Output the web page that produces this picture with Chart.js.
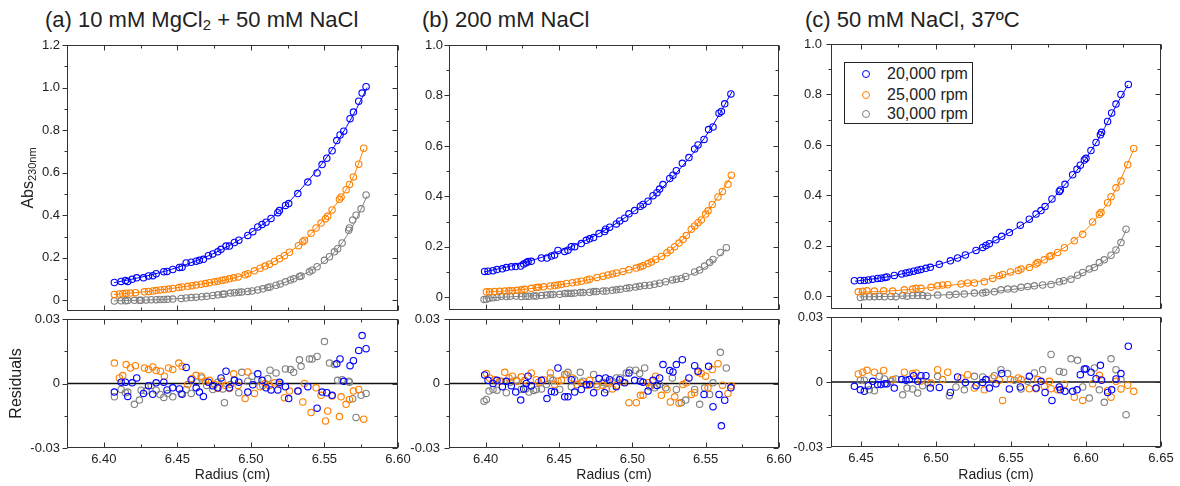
<!DOCTYPE html>
<html lang="en">
<head>
<meta charset="UTF-8">
<title>Absorbance profiles and residuals</title>
<script src="https://cdn.jsdelivr.net/npm/chart.js"></script>
<style>
  body { margin:0; background:#fff; font-family:'Liberation Sans', Arial, sans-serif; color:#222; }
  #page { position:relative; width:1180px; height:486px; overflow:hidden; background:#fff; }
  .box { position:absolute; }
  .box canvas { display:block; }
  .panel-title { position:absolute; top:7px; font-size:22px; line-height:26px; white-space:nowrap; }
  .panel-title sub { font-size:15px; vertical-align:-3px; line-height:0; }
  .ylab { position:absolute; width:100px; height:20px; line-height:20px; text-align:center;
          font-size:16px; white-space:nowrap; transform:rotate(-90deg); }
  .ylab sub { font-size:11px; vertical-align:-3px; line-height:0; }
  #legend { position:absolute; left:844px; top:62px; width:127px; height:60px; border:1px solid #222; background:#fff; }
  #legend .row { position:absolute; left:0; height:20px; line-height:20px; font-size:16px; white-space:nowrap; }
  #legend .mk { position:absolute; left:17px; top:6px; width:8px; height:8px; box-sizing:border-box;
                border:1.3px solid; border-radius:50%; }
  #legend .tx { position:absolute; left:42px; top:0; }
</style>
</head>
<body>
<div id="page">
  <div class="panel-title" style="left:45px">(a) 10 mM MgCl<sub>2</sub> + 50 mM NaCl</div>
  <div class="panel-title" style="left:422px">(b) 200 mM NaCl</div>
  <div class="panel-title" style="left:805px">(c) 50 mM NaCl, 37ºC</div>

  <div class="box" style="left:0;top:30px"><canvas id="aTop" width="412" height="290"></canvas></div>
  <div class="box" style="left:0;top:310px"><canvas id="aRes" width="412" height="176"></canvas></div>
  <div class="box" style="left:400px;top:30px"><canvas id="bTop" width="392" height="290"></canvas></div>
  <div class="box" style="left:400px;top:310px"><canvas id="bRes" width="392" height="176"></canvas></div>
  <div class="box" style="left:780px;top:30px"><canvas id="cTop" width="400" height="290"></canvas></div>
  <div class="box" style="left:780px;top:310px"><canvas id="cRes" width="400" height="176"></canvas></div>

  <div class="ylab" style="left:-22px;top:168px">Abs<sub>230nm</sub></div>

  <div id="legend">
    <div class="row" style="top:1px"><span class="mk" style="border-color:#0000ff"></span><span class="tx">20,000 rpm</span></div>
    <div class="row" style="top:22px"><span class="mk" style="border-color:#ff8000"></span><span class="tx">25,000 rpm</span></div>
    <div class="row" style="top:41px"><span class="mk" style="border-color:#808080"></span><span class="tx">30,000 rpm</span></div>
  </div>
</div>

<script>
  // ---- tick values / labels ----
  const xTicksAB = [6.40, 6.45, 6.50, 6.55, 6.60];
  const xTicksC  = [6.45, 6.50, 6.55, 6.60, 6.65];
  const yTicksA  = [0, 0.2, 0.4, 0.6, 0.8, 1.0, 1.2];
  const yLabelsA = ['0', '0.2', '0.4', '0.6', '0.8', '1.0', '1.2'];
  const yTicksBC = [0, 0.2, 0.4, 0.6, 0.8, 1.0];
  const yLabelsB = ['0', '0.2', '0.4', '0.6', '0.8', '1.0'];
  const yLabelsC = ['0.0', '0.2', '0.4', '0.6', '0.8', '1.0'];
  const resTicks  = [-0.03, 0, 0.03];
  const resLabels = ['-0.03', '0', '0.03'];

  // ---- (a) 10 mM MgCl2 + 50 mM NaCl ----
  const aBlueR = [6.4072,6.4118,6.4147,6.4163,6.4193,6.4224,6.427,6.4304,6.4333,6.4356,6.4408,6.443,6.4469,6.4514,6.4532,6.456,6.4594,6.4628,6.465,6.4677,6.4711,6.4741,6.4775,6.4797,6.4831,6.4854,6.4888,6.4918,6.4979,6.5013,6.5047,6.5076,6.5103,6.5137,6.5183,6.5194,6.5235,6.5257,6.5319,6.5387,6.545,6.5484,6.5516,6.5552,6.5584,6.5606,6.5631,6.5674,6.5697,6.5733,6.5756,6.5783];
  const aBlueAbs = [0.084,0.089,0.093,0.089,0.099,0.106,0.106,0.115,0.116,0.125,0.135,0.136,0.145,0.155,0.156,0.176,0.179,0.184,0.188,0.193,0.210,0.218,0.228,0.240,0.255,0.255,0.272,0.283,0.305,0.323,0.345,0.357,0.367,0.385,0.412,0.422,0.446,0.455,0.502,0.556,0.599,0.638,0.668,0.703,0.751,0.777,0.795,0.854,0.885,0.936,0.974,1.004];
  const aBlueRes = [-0.004,0.0006,0.0006,-0.006,0.0003,0.0026,-0.0046,-0.001,-0.005,0.0003,0.0006,-0.003,-0.002,-0.0025,-0.005,0.0075,0.0018,-0.002,-0.004,-0.006,0.0006,-0.001,-0.002,0.0026,0.0057,-0.002,0.0015,0.0006,-0.004,-0.0006,0.0045,0.0015,-0.002,-0.003,-0.003,0.0006,-0.0015,-0.007,-0.0035,-0.0015,-0.0115,-0.004,-0.0043,-0.0055,0.0092,0.0114,0.001,0.0083,0.0106,0.0154,0.0223,0.0162];
  const aBlueFitR   = [6.407,6.43,6.455,6.48,6.50,6.52,6.54,6.555,6.565,6.572,6.579];
  const aBlueFitAbs = [0.083,0.116,0.166,0.238,0.318,0.423,0.571,0.706,0.816,0.903,1.0];

  const aOrangeR = [6.4072,6.4106,6.4129,6.4152,6.4181,6.4215,6.4276,6.4304,6.4333,6.4356,6.4385,6.4412,6.444,6.4469,6.451,6.4532,6.4571,6.46,6.4628,6.4662,6.4691,6.4718,6.4752,6.4775,6.4804,6.4827,6.4854,6.4883,6.4913,6.4961,6.4979,6.5024,6.5063,6.5097,6.5126,6.516,6.5194,6.5228,6.5262,6.5323,6.5353,6.5364,6.5409,6.5443,6.5477,6.5507,6.5522,6.5552,6.5602,6.5613,6.5647,6.567,6.5697,6.5733,6.5767];
  const aOrangeAbs = [0.028,0.030,0.031,0.033,0.034,0.036,0.040,0.042,0.044,0.046,0.049,0.051,0.053,0.056,0.060,0.063,0.066,0.069,0.072,0.076,0.079,0.083,0.087,0.090,0.094,0.097,0.101,0.106,0.110,0.120,0.125,0.139,0.151,0.161,0.170,0.183,0.196,0.210,0.226,0.257,0.276,0.283,0.315,0.340,0.363,0.384,0.395,0.425,0.475,0.486,0.520,0.545,0.580,0.640,0.715];
  const aOrangeRes = [0.0095,0.0026,0.0037,0.0088,0.0072,0.0083,0.0072,0.0065,0.0077,0.006,0.0057,0.0034,0.0072,0.0065,0.0095,0.008,-0.0005,0.0023,0.0038,0.0034,0.001,0.0015,-0.0005,-0.0023,0.001,-0.0009,-0.0023,0.0045,-0.0009,-0.007,0.0054,-0.0046,-0.0015,0,-0.0009,0.0003,-0.0005,-0.0066,-0.0035,-0.0035,-0.0086,0,-0.0135,-0.002,-0.0055,-0.0174,-0.0128,-0.0058,-0.0154,-0.0062,-0.0097,-0.0074,-0.0035,-0.0028,-0.0166];
  const aOrangeFitR   = [6.407,6.43,6.46,6.49,6.51,6.53,6.545,6.56,6.57,6.5767];
  const aOrangeFitAbs = [0.028,0.042,0.070,0.108,0.162,0.245,0.343,0.472,0.585,0.712];

  const aGrayR = [6.4072,6.4118,6.4147,6.4163,6.4208,6.4242,6.4254,6.4288,6.4322,6.4356,6.4383,6.4408,6.4435,6.4469,6.4526,6.456,6.4594,6.4628,6.4666,6.47,6.4741,6.4775,6.4809,6.482,6.4861,6.4888,6.4918,6.4938,6.4979,6.5008,6.5047,6.5081,6.5115,6.513,6.5171,6.5199,6.5235,6.5269,6.5291,6.533,6.5341,6.5398,6.5416,6.545,6.55,6.5534,6.5568,6.559,6.562,6.5665,6.567,6.5692,6.5715,6.5749,6.5783];
  const aGrayAbs = [-0.003,-0.002,-0.002,-0.001,0.000,0.000,0.001,0.002,0.003,0.003,0.004,0.004,0.005,0.006,0.009,0.011,0.013,0.015,0.017,0.019,0.023,0.026,0.029,0.030,0.034,0.036,0.038,0.039,0.042,0.044,0.049,0.054,0.060,0.063,0.071,0.077,0.087,0.096,0.101,0.112,0.115,0.134,0.142,0.158,0.188,0.205,0.228,0.243,0.270,0.330,0.340,0.378,0.400,0.430,0.495];
  const aGrayRes = [-0.0062,-0.0028,-0.0043,-0.004,-0.0097,-0.0077,-0.0031,-0.0035,-0.0009,-0.0031,-0.0051,-0.0065,-0.0046,-0.0062,-0.0046,-0.0028,-0.0046,0.0006,0.0026,-0.0009,-0.0028,0.0006,-0.0025,-0.0089,-0.0005,0.0018,-0.0043,0.0052,0.0011,0.0034,0.0018,-0.0009,0.0023,0.0062,0.0049,0.0003,0.0068,0.0065,0.0052,0.011,0.008,0.0114,0.0114,0.0126,0.0195,0.0095,0.0088,0.0015,0.0018,0.0011,0.0006,-0.0071,-0.0158,-0.0055,-0.0046];
  const aGrayFitR   = [6.407,6.44,6.465,6.49,6.51,6.525,6.54,6.55,6.56,6.57,6.579];
  const aGrayFitAbs = [-0.002,0.004,0.016,0.036,0.057,0.089,0.137,0.184,0.252,0.36,0.49];

  // ---- (b) 200 mM NaCl ----
  const bBlueR = [6.3993,6.4016,6.405,6.4077,6.4114,6.4141,6.4175,6.4205,6.4239,6.4259,6.4277,6.4289,6.4311,6.438,6.4418,6.4448,6.447,6.4493,6.4539,6.4561,6.4584,6.4607,6.4652,6.4686,6.4709,6.4736,6.4773,6.4811,6.4818,6.4845,6.4891,6.4914,6.4948,6.4977,6.5016,6.5055,6.5073,6.5107,6.5141,6.5168,6.5186,6.5209,6.5255,6.5277,6.53,6.5341,6.5386,6.5425,6.5448,6.5489,6.552,6.555,6.5591,6.5607,6.563,6.5672];
  const bBlueAbs = [0.103,0.104,0.106,0.110,0.113,0.118,0.121,0.122,0.124,0.132,0.137,0.142,0.143,0.156,0.156,0.164,0.168,0.186,0.182,0.187,0.201,0.201,0.213,0.226,0.232,0.237,0.253,0.261,0.270,0.278,0.291,0.303,0.314,0.331,0.344,0.361,0.368,0.381,0.403,0.415,0.429,0.447,0.471,0.484,0.502,0.531,0.554,0.588,0.604,0.626,0.665,0.675,0.730,0.737,0.767,0.806];
  const bBlueRes = [0.004,0.0015,0,0.0015,-0.0015,0.001,-0.001,-0.004,-0.0077,-0.0025,0,0.0034,-0.001,0.0015,-0.007,-0.0037,-0.004,0.0072,-0.0062,-0.0062,0.0018,-0.004,-0.0028,-0.0005,-0.0005,-0.0043,0.0023,-0.0043,0.0026,0.0018,-0.0015,0.0018,0.0003,0.0049,0.0015,0.0011,0.0006,-0.0035,0.0015,-0.0009,0.0026,0.0088,0.006,0.0054,0.0088,0.0111,0.0026,0.0083,0.0057,-0.0051,0.008,-0.0108,-0.0051,-0.0197,-0.0078,-0.002];
  const bBlueFitR   = [6.399,6.42,6.44,6.46,6.48,6.50,6.515,6.53,6.545,6.555,6.568];
  const bBlueFitAbs = [0.101,0.128,0.162,0.205,0.262,0.336,0.405,0.493,0.598,0.683,0.815];

  const bOrangeR = [6.4005,6.4027,6.4061,6.4095,6.413,6.4159,6.4182,6.4214,6.4243,6.4266,6.4311,6.4345,6.4361,6.4395,6.4441,6.447,6.4493,6.4516,6.455,6.4591,6.4623,6.4652,6.4691,6.4709,6.4759,6.48,6.4834,6.4864,6.4891,6.4936,6.4977,6.5027,6.5055,6.5073,6.5107,6.513,6.5159,6.5198,6.5236,6.5259,6.5289,6.5318,6.5345,6.5368,6.5402,6.5425,6.5448,6.547,6.55,6.5516,6.5545,6.5584,6.5614,6.5652,6.5675];
  const bOrangeAbs = [0.022,0.022,0.023,0.024,0.025,0.026,0.026,0.028,0.030,0.032,0.036,0.039,0.040,0.042,0.045,0.047,0.049,0.051,0.055,0.058,0.061,0.064,0.069,0.072,0.079,0.084,0.089,0.093,0.097,0.103,0.109,0.116,0.121,0.125,0.134,0.140,0.150,0.162,0.177,0.187,0.201,0.215,0.229,0.245,0.270,0.283,0.296,0.307,0.330,0.343,0.368,0.398,0.420,0.448,0.484];
  const bOrangeRes = [0.0046,0.0026,0.0018,0.0011,0.0052,0.0026,0.0034,0.0011,0.0031,0.0015,0.0049,0.0018,0.0006,0.0018,0.0049,-0.0005,0.0011,0.0015,0.0042,0.0026,-0.0005,0.0003,-0.0009,0.0015,-0.0015,-0.0009,0.0006,-0.0025,-0.0009,0.0006,-0.0089,-0.0089,-0.0055,-0.0055,0.0003,-0.0009,0.0034,-0.0055,-0.0028,-0.0086,-0.0062,-0.0092,-0.0005,0.0003,-0.0051,-0.0043,0.0052,0.0046,0.0034,-0.002,0.0065,0.0092,-0.0008,-0.0046,-0.001];
  const bOrangeFitR   = [6.40,6.42,6.44,6.46,6.48,6.50,6.515,6.53,6.545,6.555,6.5675];
  const bOrangeFitAbs = [0.021,0.028,0.042,0.058,0.083,0.112,0.146,0.205,0.296,0.370,0.480];

  const bGrayR = [6.3989,6.4005,6.4023,6.405,6.4077,6.4107,6.4141,6.4168,6.4209,6.4243,6.4273,6.4295,6.4327,6.4345,6.438,6.4414,6.4441,6.4459,6.4505,6.4539,6.4561,6.4584,6.4607,6.4645,6.4664,6.4709,6.4736,6.4755,6.48,6.4823,6.4864,6.4891,6.4918,6.4959,6.4982,6.5023,6.505,6.5084,6.5118,6.5152,6.5186,6.5227,6.5273,6.53,6.5334,6.5364,6.5425,6.5459,6.5493,6.5527,6.555,6.56,6.5641];
  const bGrayAbs = [-0.008,-0.007,-0.003,-0.001,0.001,0.004,0.003,0.004,0.005,0.003,0.004,0.004,0.005,0.005,0.007,0.009,0.011,0.011,0.012,0.015,0.016,0.015,0.017,0.019,0.019,0.020,0.023,0.023,0.025,0.025,0.028,0.030,0.032,0.036,0.038,0.041,0.044,0.047,0.048,0.052,0.056,0.062,0.069,0.072,0.075,0.083,0.101,0.108,0.124,0.138,0.150,0.178,0.197];
  const bGrayRes = [-0.0082,-0.0074,-0.0035,-0.0028,-0.0031,0.0011,-0.0043,0.0006,0.0015,-0.0028,-0.0025,-0.004,-0.0032,-0.0028,-0.0025,-0.0005,0.0026,0.0015,-0.0028,0.0042,0.0052,-0.0015,0.0018,0.0052,0.0011,-0.0005,0.0042,-0.0005,0.0006,-0.0028,0.0011,0.0026,0.0026,0.0049,0.0062,0.0062,0.0046,0.0072,-0.0015,-0.002,-0.0005,-0.002,0.0026,-0.0028,-0.0089,-0.0077,-0.0028,-0.0097,-0.002,-0.0051,0.0003,0.0145,0.0072];
  const bGrayFitR   = [6.399,6.42,6.44,6.46,6.48,6.50,6.52,6.535,6.545,6.555,6.5641];
  const bGrayFitAbs = [-0.003,0.003,0.008,0.015,0.025,0.038,0.058,0.080,0.104,0.140,0.192];

  // ---- (c) 50 mM NaCl, 37 ºC ----
  const cBlueR = [6.4456,6.4496,6.4522,6.4549,6.4578,6.4611,6.4633,6.466,6.4673,6.4722,6.4771,6.48,6.4822,6.4851,6.4878,6.49,6.4933,6.4962,6.5022,6.5096,6.5144,6.5196,6.5267,6.5311,6.5333,6.5356,6.54,6.5438,6.5489,6.5562,6.5622,6.5667,6.57,6.5727,6.5773,6.5822,6.5829,6.586,6.5911,6.594,6.5962,6.5989,6.6,6.6033,6.6067,6.6096,6.6104,6.6144,6.6171,6.62,6.6233,6.6282];
  const cBlueAbs = [0.062,0.063,0.063,0.065,0.068,0.071,0.072,0.075,0.077,0.083,0.089,0.093,0.096,0.100,0.104,0.107,0.111,0.115,0.127,0.141,0.152,0.164,0.182,0.194,0.202,0.209,0.224,0.238,0.253,0.282,0.306,0.326,0.340,0.356,0.386,0.416,0.422,0.444,0.482,0.504,0.520,0.540,0.547,0.578,0.610,0.640,0.650,0.693,0.727,0.762,0.800,0.840];
  const cBlueRes = [-0.002,-0.0036,-0.0043,-0.0017,0.0003,-0.0012,-0.0012,-0.0008,-0.0008,-0.0028,0.0011,0.0008,0.0011,0.0029,0.0003,0.0029,0.0029,-0.0028,-0.0025,-0.0048,0.0023,-0.0002,-0.0017,-0.0002,0.0011,-0.0028,-0.0008,0.0039,-0.0032,-0.0023,0.0026,-0.0028,0.0003,-0.0048,-0.0085,-0.0023,-0.0036,-0.0043,-0.0043,-0.0036,0.0034,0.006,0.006,0.0045,0.0015,0.0077,0.0008,-0.0048,-0.0036,0.0014,0.0039,0.0165];
  const cBlueFitR   = [6.446,6.47,6.49,6.51,6.53,6.55,6.57,6.585,6.60,6.61,6.62,6.628];
  const cBlueFitAbs = [0.060,0.080,0.107,0.142,0.192,0.257,0.338,0.436,0.547,0.642,0.755,0.838];

  const cOrangeR = [6.4482,6.4511,6.454,6.4589,6.4651,6.4711,6.4789,6.4844,6.4867,6.49,6.4967,6.5011,6.5044,6.5078,6.5167,6.5211,6.5256,6.5322,6.5378,6.5422,6.5444,6.5496,6.5549,6.5567,6.5622,6.5667,6.5678,6.5722,6.5756,6.5767,6.5811,6.5856,6.5922,6.5978,6.6044,6.6089,6.61,6.6144,6.6167,6.62,6.6233,6.6278,6.6318];
  const cOrangeAbs = [0.018,0.020,0.022,0.021,0.022,0.021,0.026,0.029,0.032,0.032,0.036,0.042,0.045,0.046,0.049,0.053,0.053,0.058,0.071,0.082,0.087,0.097,0.103,0.108,0.114,0.128,0.134,0.145,0.158,0.161,0.174,0.193,0.220,0.246,0.295,0.325,0.332,0.371,0.395,0.430,0.457,0.522,0.586];
  const cOrangeRes = [0.0037,0.0045,0.0054,0.0045,0.0053,0.0011,0.0045,0.0039,0.0042,0.0005,-0.0005,0.0057,0.0011,0.0045,0.0019,0.0034,-0.0028,-0.0036,0.0019,0.0008,-0.0085,0.0011,0.0019,0.0011,-0.0031,-0.0031,0.0011,-0.002,0.0003,-0.0031,-0.0036,-0.001,-0.007,-0.0085,-0.0008,0.0031,0.0011,-0.004,-0.007,0.0003,-0.0032,-0.0015,-0.0043];
  const cOrangeFitR   = [6.448,6.47,6.49,6.51,6.53,6.55,6.565,6.58,6.595,6.61,6.62,6.632];
  const cOrangeFitAbs = [0.016,0.022,0.031,0.044,0.061,0.093,0.124,0.172,0.236,0.333,0.425,0.585];

  const cGrayR = [6.4496,6.4522,6.4556,6.4589,6.4622,6.4656,6.47,6.4733,6.4778,6.4807,6.4844,6.4878,6.4911,6.4944,6.5011,6.5089,6.5133,6.5189,6.5256,6.5311,6.5333,6.5389,6.5433,6.5478,6.5522,6.5567,6.5611,6.5656,6.5711,6.5767,6.5822,6.5851,6.59,6.5944,6.5978,6.6022,6.6056,6.6089,6.6122,6.6167,6.62,6.6233,6.6267];
  const cGrayAbs = [-0.004,-0.001,-0.001,-0.001,0.000,-0.001,0.000,-0.001,0.003,0.001,0.003,0.003,0.003,0.001,0.005,0.005,0.008,0.009,0.013,0.013,0.016,0.018,0.026,0.029,0.029,0.036,0.039,0.042,0.045,0.047,0.058,0.062,0.068,0.084,0.095,0.108,0.114,0.134,0.145,0.163,0.184,0.213,0.266];
  const cGrayRes = [0.0008,0.0008,-0.0036,-0.004,0.0026,0.0014,0.0003,0.0014,-0.0059,-0.0028,-0.0032,-0.0051,-0.0017,-0.0002,0.0026,-0.0063,-0.0023,-0.0036,0.0026,0.0023,0.0011,0.0029,0.0057,0.0039,0.0008,-0.0032,0.0003,0.0042,0.0057,0.0127,0.0049,0.0045,0.0107,0.01,-0.0023,-0.0074,0.0065,-0.0036,-0.0094,0.0107,0.0057,0.0011,-0.0151];
  const cGrayFitR   = [6.449,6.47,6.49,6.51,6.53,6.55,6.57,6.585,6.60,6.61,6.62,6.627];
  const cGrayFitAbs = [-0.002,0.000,0.003,0.007,0.014,0.027,0.044,0.062,0.098,0.132,0.182,0.265];

  // ---- styling ----
  const BLUE = '#0000ff', ORANGE = '#ff8000', GRAY = '#808080';
  const FONT = "'Liberation Sans', Arial, sans-serif";
  Chart.defaults.font.family = FONT;
  Chart.defaults.color = '#222';

  function pts(xs, ys) { return xs.map((x, i) => ({ x: x, y: ys[i] })); }

  function markerSet(xs, ys, color) {
    return { data: pts(xs, ys), borderColor: color, backgroundColor: 'rgba(0,0,0,0)',
             pointRadius: 3.2, pointBorderWidth: 1.1, pointHoverRadius: 3.2, showLine: false };
  }
  function fitSet(xs, ys, color) {
    return { data: pts(xs, ys), borderColor: color, borderWidth: 1, pointRadius: 0,
             showLine: true, cubicInterpolationMode: 'monotone', fill: false };
  }

  // minor ticks half-way between major ticks (and one step outside) inside [min,max]
  function minorOf(major, min, max) {
    const step = major[1] - major[0];
    const out = [];
    for (let i = -1; i < major.length; i++) {
      const v = (i < 0 ? major[0] - step : major[i]) + step / 2;
      if (v > min + 1e-9 && v < max - 1e-9) out.push(v);
    }
    return out;
  }

  // frame + tick marks (left ticks point out, the others point in) and the residual zero line
  const axisFrame = {
    id: 'axisFrame',
    beforeDatasetsDraw(chart, args, o) {
      if (!o.zeroLine) return;
      const { ctx, chartArea: a, scales: { y } } = chart;
      const py = y.getPixelForValue(0);
      ctx.save();
      ctx.strokeStyle = '#111';
      ctx.lineWidth = 1.6;
      ctx.beginPath(); ctx.moveTo(a.left, py); ctx.lineTo(a.right, py); ctx.stroke();
      ctx.restore();
    },
    afterDatasetsDraw(chart, args, o) {
      const { ctx, chartArea: a, scales: { x, y } } = chart;
      const L = Math.round(a.left) + 0.5, R = Math.round(a.right) - 0.5;
      const T = Math.round(a.top) + 0.5, B = Math.round(a.bottom) - 0.5;
      ctx.save();
      ctx.strokeStyle = '#333';
      ctx.lineWidth = 1;
      ctx.strokeRect(L, T, R - L, B - T);
      ctx.beginPath();
      const xMinor = minorOf(o.xMajor, x.min, x.max);
      const yMinor = minorOf(o.yMajor, y.min, y.max);
      const xs = o.xMajor.map(v => [v, 5]).concat(xMinor.map(v => [v, 3]));
      const ys = o.yMajor.map(v => [v, 5]).concat(yMinor.map(v => [v, 3]));
      xs.forEach(([v, len]) => {
        const px = Math.round(x.getPixelForValue(v)) + 0.5;
        if (px < L - 1 || px > R + 1) return;
        ctx.moveTo(px, T); ctx.lineTo(px, T + len);
        ctx.moveTo(px, B); ctx.lineTo(px, B - len);
      });
      ys.forEach(([v, len]) => {
        const py = Math.round(y.getPixelForValue(v)) + 0.5;
        if (py < T - 1 || py > B + 1) return;
        ctx.moveTo(L, py); ctx.lineTo(L - len, py);
        ctx.moveTo(R, py); ctx.lineTo(R - len, py);
      });
      ctx.stroke();
      ctx.restore();
    }
  };

  function makePlot(id, p) {
    const yAxis = {
      type: 'linear', min: p.yMin, max: p.yMax,
      grid: { display: false, drawTicks: false }, border: { display: false },
      afterBuildTicks: s => { s.ticks = p.yTicks.map(v => ({ value: v })); },
      afterFit: s => { s.width = p.yWidth; s.paddingTop = 0; s.paddingBottom = 0; },
      ticks: { autoSkip: false, padding: p.yPad, font: { size: 13 }, color: '#222',
               callback: (v, i) => p.yLabels[i] },
      title: p.yTitle ? { display: true, text: p.yTitle, font: { size: 16 }, color: '#222',
                          padding: { top: 7, bottom: 0 } } : { display: false }
    };
    const xAxis = p.xLabels ? {
      type: 'linear', position: 'bottom', min: p.xMin, max: p.xMax,
      grid: { display: false, drawTicks: false }, border: { display: false },
      afterBuildTicks: s => { s.ticks = p.xTicks.map(v => ({ value: v })); },
      afterFit: s => { s.height = p.xHeight; s.paddingLeft = 0; s.paddingRight = 0; },
      ticks: { autoSkip: false, maxRotation: 0, minRotation: 0, padding: 4, font: { size: 13 },
               color: '#222', callback: (v, i) => p.xLabels[i] },
      title: { display: true, text: 'Radius (cm)', font: { size: 14 }, color: '#222',
               padding: { top: 0, bottom: 2 } }
    } : { type: 'linear', min: p.xMin, max: p.xMax, display: false };

    return new Chart(document.getElementById(id), {
      type: 'scatter',
      data: { datasets: p.datasets },
      options: {
        responsive: false, animation: false, devicePixelRatio: 1, events: [],
        layout: { autoPadding: false, padding: p.pad },
        plugins: {
          legend: { display: false }, tooltip: { enabled: false },
          axisFrame: { xMajor: p.xTicks, yMajor: p.yTicks, zeroLine: !!p.zeroLine }
        },
        scales: { x: xAxis, y: yAxis }
      },
      plugins: [axisFrame]
    });
  }

  const xLabelsAB = xTicksAB.map(v => v.toFixed(2));
  const xLabelsC  = xTicksC.map(v => v.toFixed(2));

  // (a)
  makePlot('aTop', {
    xMin: 6.375, xMax: 6.60, yMin: -0.05, yMax: 1.2, xTicks: xTicksAB, yTicks: yTicksA, yLabels: yLabelsA,
    yWidth: 67, yPad: 7, pad: { left: 0, top: 15, right: 14, bottom: 9 },
    datasets: [markerSet(aBlueR, aBlueAbs, BLUE), markerSet(aOrangeR, aOrangeAbs, ORANGE), markerSet(aGrayR, aGrayAbs, GRAY),
               fitSet(aBlueFitR, aBlueFitAbs, BLUE), fitSet(aOrangeFitR, aOrangeFitAbs, ORANGE), fitSet(aGrayFitR, aGrayFitAbs, GRAY)]
  });
  makePlot('aRes', {
    xMin: 6.375, xMax: 6.60, yMin: -0.03, yMax: 0.03, xTicks: xTicksAB, xLabels: xLabelsAB, yTicks: resTicks, yLabels: resLabels,
    yWidth: 67, yPad: 7, xHeight: 38, yTitle: 'Residuals', zeroLine: true, pad: { left: 0, top: 9, right: 14, bottom: 0 },
    datasets: [markerSet(aBlueR, aBlueRes, BLUE), markerSet(aOrangeR, aOrangeRes, ORANGE), markerSet(aGrayR, aGrayRes, GRAY)]
  });

  // (b)
  makePlot('bTop', {
    xMin: 6.375, xMax: 6.60, yMin: -0.05, yMax: 1.0, xTicks: xTicksAB, yTicks: yTicksBC, yLabels: yLabelsB,
    yWidth: 49, yPad: 6, pad: { left: 0, top: 15, right: 13, bottom: 10 },
    datasets: [markerSet(bBlueR, bBlueAbs, BLUE), markerSet(bOrangeR, bOrangeAbs, ORANGE), markerSet(bGrayR, bGrayAbs, GRAY),
               fitSet(bBlueFitR, bBlueFitAbs, BLUE), fitSet(bOrangeFitR, bOrangeFitAbs, ORANGE), fitSet(bGrayFitR, bGrayFitAbs, GRAY)]
  });
  makePlot('bRes', {
    xMin: 6.375, xMax: 6.60, yMin: -0.03, yMax: 0.03, xTicks: xTicksAB, xLabels: xLabelsAB, yTicks: resTicks, yLabels: resLabels,
    yWidth: 49, yPad: 9, xHeight: 38, zeroLine: true, pad: { left: 0, top: 9, right: 13, bottom: 0 },
    datasets: [markerSet(bBlueR, bBlueRes, BLUE), markerSet(bOrangeR, bOrangeRes, ORANGE), markerSet(bGrayR, bGrayRes, GRAY)]
  });

  // (c)
  makePlot('cTop', {
    xMin: 6.43, xMax: 6.65, yMin: -0.05, yMax: 1.0, xTicks: xTicksC, yTicks: yTicksBC, yLabels: yLabelsC,
    yWidth: 51, yPad: 9, pad: { left: 0, top: 14, right: 19, bottom: 11 },
    datasets: [markerSet(cBlueR, cBlueAbs, BLUE), markerSet(cOrangeR, cOrangeAbs, ORANGE), markerSet(cGrayR, cGrayAbs, GRAY),
               fitSet(cBlueFitR, cBlueFitAbs, BLUE), fitSet(cOrangeFitR, cOrangeFitAbs, ORANGE), fitSet(cGrayFitR, cGrayFitAbs, GRAY)]
  });
  makePlot('cRes', {
    xMin: 6.43, xMax: 6.65, yMin: -0.03, yMax: 0.03, xTicks: xTicksC, xLabels: xLabelsC, yTicks: resTicks, yLabels: resLabels,
    yWidth: 51, yPad: 8, xHeight: 39, zeroLine: true, pad: { left: 0, top: 7, right: 19, bottom: 0 },
    datasets: [markerSet(cBlueR, cBlueRes, BLUE), markerSet(cOrangeR, cOrangeRes, ORANGE), markerSet(cGrayR, cGrayRes, GRAY)]
  });
</script>
</body>
</html>
